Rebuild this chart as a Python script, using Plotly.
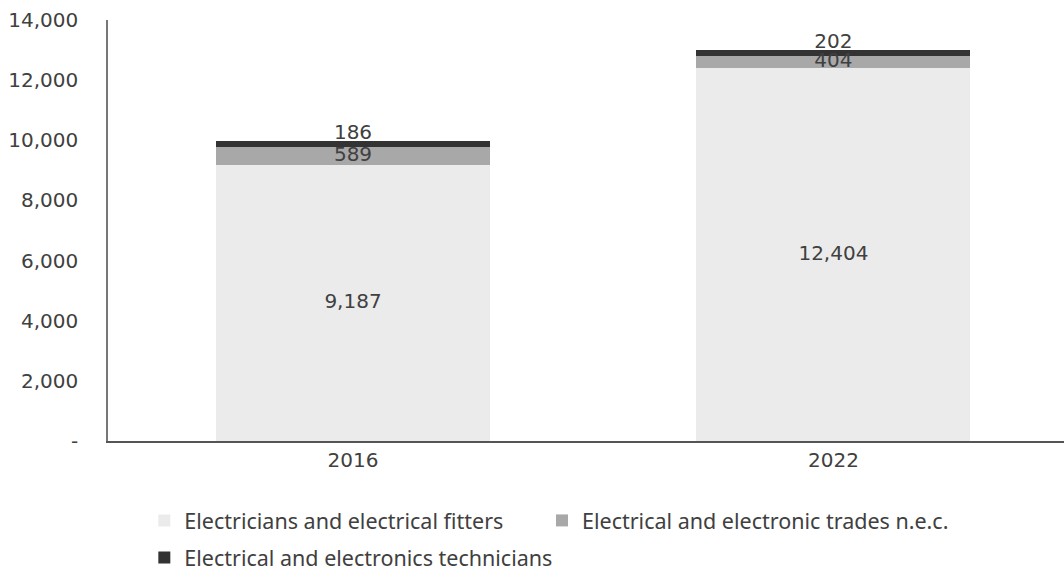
import plotly.graph_objects as go

years = ["2016", "2022"]
fitters = [9187, 12404]
trades_nec = [589, 404]
technicians = [186, 202]

series = [
    ("Electricians and electrical fitters", fitters, "#ebebeb", "legend"),
    ("Electrical and electronic trades n.e.c.", trades_nec, "#a8a8a8", "legend3"),
    ("Electrical and electronics technicians", technicians, "#333333", "legend2"),
]

FONT = "DejaVu Sans"
LEGEND_FONT = "Noto Sans"
TEXT = "#404040"

fig = go.Figure()
base = [0, 0]
label_x, label_y, label_t, label_pos = [], [], [], []
for k, (name, vals, color, leg) in enumerate(series):
    fig.add_trace(go.Bar(
        x=years, y=vals, name=name, legend=leg,
        marker=dict(color=color, line=dict(width=0)),
        width=0.57,
    ))
    for i, v in enumerate(vals):
        label_x.append(years[i])
        label_y.append(base[i] + v / 2)
        label_t.append(f"{v:,}")
        # the thin top segment carries its value just above its centre
        label_pos.append("top center" if k == len(series) - 1 else "middle center")
        base[i] += v

fig.add_trace(go.Scatter(
    x=label_x, y=label_y, text=label_t, mode="text", showlegend=False,
    textposition=label_pos, textfont=dict(family=FONT, size=20, color=TEXT),
    hoverinfo="skip",
))

legend_common = dict(
    orientation="h", xanchor="left", yanchor="top",
    font=dict(family=LEGEND_FONT, size=21.5, color=TEXT),
    traceorder="normal", itemclick=False, itemdoubleclick=False,
    bgcolor="rgba(0,0,0,0)",
)

fig.update_layout(
    barmode="stack",
    width=1064, height=574,
    margin=dict(l=108, r=0, t=20, b=133, autoexpand=False),
    paper_bgcolor="white", plot_bgcolor="white",
    font=dict(family=FONT, size=20, color=TEXT),
    showlegend=True,
    legend=dict(x=0.038, y=-0.140, **legend_common),
    legend3=dict(x=0.454, y=-0.140, **legend_common),
    legend2=dict(x=0.038, y=-0.228, **legend_common),
    xaxis=dict(
        range=[-0.51, 1.48], showline=True, linecolor="#555555", linewidth=1.5,
        ticks="", showgrid=False, tickfont=dict(family=FONT, size=20, color=TEXT),
    ),
    yaxis=dict(
        range=[0, 14000], tickvals=[0, 2000, 4000, 6000, 8000, 10000, 12000, 14000],
        ticktext=["-", "2,000", "4,000", "6,000", "8,000", "10,000", "12,000", "14,000"],
        showline=True, linecolor="#777777", linewidth=1.5, showgrid=False,
        zeroline=False, ticks="", ticklabelstandoff=24,
        tickfont=dict(family=FONT, size=20, color=TEXT),
    ),
)

fig.write_html("out.html")
